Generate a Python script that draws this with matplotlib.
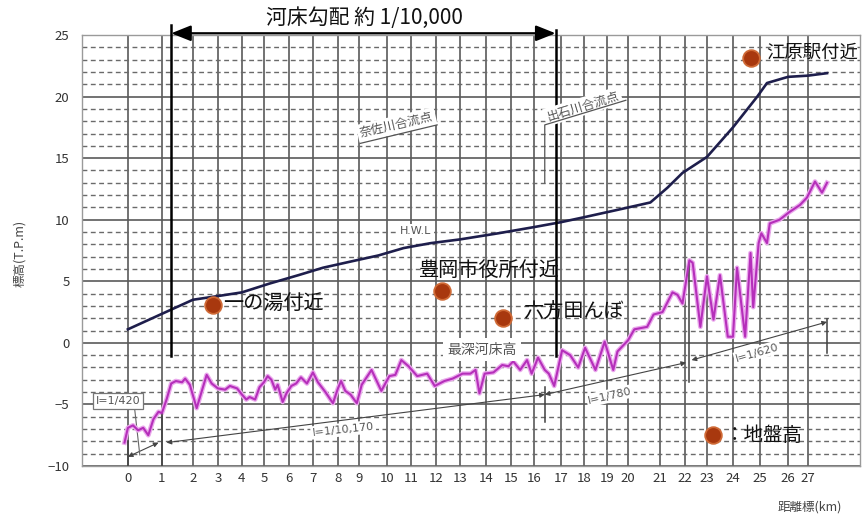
import numpy as np
import matplotlib.pyplot as plt
from matplotlib.ticker import FixedLocator, MultipleLocator

plt.rcParams['font.family'] = ['Noto Sans CJK JP', 'DejaVu Sans']

# chainage ticks (km) and where they sit along the drawing (px), the scale is not uniform
km_ticks = list(range(28))
tick_px = [128, 162, 193, 218, 242, 264, 289, 313, 338, 359, 387, 411, 436, 460,
           486, 511, 534, 561, 584, 607, 628, 660, 685, 707, 733, 760, 788, 808]

# H.W.L
hwl_km = [0, 1.3, 2.0, 3.0, 4.0, 5.2, 6.4, 7.4, 8.6, 9.7, 10.7, 11.8, 13.0, 14.5,
          16.0, 17.0, 18.0, 19.5, 20.7, 21.3, 21.9, 23.0, 24.0, 24.9, 25.25, 26.0,
          27.0, 27.95]
hwl_val = [1.1, 2.7, 3.5, 3.8, 4.1, 4.8, 5.5, 6.1, 6.6, 7.1, 7.7, 8.1, 8.4, 8.9,
           9.4, 9.8, 10.2, 10.8, 11.4, 12.6, 13.8, 15.1, 17.5, 20.0, 21.1, 21.6,
           21.7, 21.9]

# deepest riverbed elevation
bed_km = [-0.1, 0.0, 0.15, 0.3, 0.45, 0.6, 0.75, 0.9, 1.0, 1.15, 1.3, 1.45, 1.65,
          1.75, 1.9, 2.15, 2.55, 2.75, 3.0, 3.3, 3.5, 3.8, 4.0, 4.2, 4.35, 4.6,
          4.8, 5.0, 5.15, 5.3, 5.45, 5.55, 5.75, 5.9, 6.1, 6.3, 6.5, 6.75, 7.0,
          7.2, 7.5, 7.8, 8.0, 8.15, 8.35, 8.6, 8.9, 9.1, 9.45, 9.8, 10.1, 10.35,
          10.6, 10.9, 11.25, 11.65, 11.95, 12.35, 12.7, 13.1, 13.4, 13.6, 13.75,
          13.95, 14.3, 14.65, 14.9, 15.1, 15.4, 15.7, 15.9, 16.15, 16.4, 16.55,
          16.75, 17.05, 17.4, 17.75, 18.05, 18.5, 18.9, 19.3, 19.5, 20.0, 20.2,
          20.6, 20.8, 21.1, 21.5, 21.7, 21.9, 22.2, 22.35, 22.7, 23.0, 23.25,
          23.5, 23.8, 24.0, 24.15, 24.45, 24.65, 24.75, 24.95, 25.05, 25.25,
          25.35, 25.7, 26.05, 26.6, 26.95, 27.35, 27.7, 27.95]
bed_val = [-8.1, -6.9, -6.7, -7.1, -6.9, -7.5, -6.2, -5.6, -5.7, -4.6, -3.3, -3.1,
           -3.2, -2.9, -3.4, -5.3, -2.6, -3.3, -3.7, -3.8, -3.5, -3.7, -4.2, -4.6,
           -4.4, -4.6, -3.6, -3.2, -2.7, -3.0, -3.8, -3.4, -4.8, -4.1, -3.5, -3.3,
           -2.8, -3.3, -2.4, -3.2, -4.0, -4.9, -3.7, -3.1, -3.9, -4.2, -4.9, -3.4,
           -2.2, -3.9, -2.7, -2.6, -1.4, -1.9, -2.7, -2.5, -3.5, -3.1, -2.9, -2.5,
           -2.5, -2.2, -4.1, -2.5, -2.4, -1.8, -1.9, -1.5, -2.2, -1.4, -2.5, -1.2,
           -2.2, -2.5, -3.5, -0.6, -1.0, -2.0, -0.4, -2.2, 0.1, -2.2, -0.7, 0.2,
           1.1, 1.3, 2.3, 2.5, 4.1, 3.9, 3.2, 6.7, 6.5, 1.3, 5.4, 1.9, 5.5, 0.5,
           0.5, 6.1, 0.5, 7.3, 2.9, 8.1, 8.9, 8.1, 9.7, 10.0, 10.6, 11.2, 11.8,
           13.1, 12.2, 13.0]

# ground height spots
spot_km = [2.8, 12.25, 14.7, 24.67]
spot_val = [3.1, 4.2, 2.0, 23.1]
spot_names = ['一の湯付近', '豊岡市役所付近', '六方田んぼ', '江原駅付近']

# bed slope segments: (start km, start elev, end km, end elev, label)
slope_segments = [
    (0.0, -9.25, 0.9, -8.1, 'I=1/420'),
    (1.15, -8.1, 16.4, -4.2, 'I=1/10,170'),
    (16.4, -4.2, 22.05, -1.6, 'I=1/780'),
    (22.3, -1.4, 27.95, 1.7, 'I=1/620'),
]

# piecewise linear stretch of the chainage axis
anchor_km = [-20] + km_ticks + [60]
anchor_px = [tick_px[0] - 20 * 34] + tick_px + [tick_px[-1] + 33 * 20]


def km_to_px(x):
    return np.interp(x, anchor_km, anchor_px)


def px_to_km(p):
    return np.interp(p, anchor_px, anchor_km)


fig = plt.figure(figsize=(8.68, 5.20), dpi=100)
ax = fig.add_axes([82 / 868, 54 / 520, 778 / 868, 431 / 520])
ax.set_xscale('function', functions=(km_to_px, px_to_km))
ax.set_xlim(-1.35, 29.6)
ax.set_ylim(-10, 25)

# grid: solid every 5 m, dashed every 1 m, solid at each km
ax.xaxis.set_major_locator(FixedLocator(km_ticks))
ax.xaxis.set_minor_locator(FixedLocator([]))
ax.yaxis.set_major_locator(MultipleLocator(5))
ax.yaxis.set_minor_locator(MultipleLocator(1))
ax.grid(which='major', axis='both', color='#5a5a5a', lw=1.2, ls='-')
ax.grid(which='minor', axis='y', color='#6a6a6a', lw=1.0, ls=(0, (3.5, 2.5)))
ax.set_axisbelow(True)
ax.tick_params(which='both', length=0, labelsize=9.5, labelcolor='#333333')
ax.tick_params(axis='y', pad=9)
ax.tick_params(axis='x', pad=4)
for sp in ax.spines.values():
    sp.set_color('#9a9a9a')
    sp.set_linewidth(1.0)

# H.W.L and deepest bed
ax.plot(hwl_km, hwl_val, color='#1e1e4c', lw=1.9, zorder=4)
ax.plot(bed_km, bed_val, color='#eaa8ec', lw=3.4, zorder=4, solid_joinstyle='round')
ax.plot(bed_km, bed_val, color='#b52fba', lw=1.5, zorder=5, solid_joinstyle='round')

# slope arrows with labels
lbl_pos = [(-0.3, -4.7, 0), (8.25, -7.05, 6), (19.15, -4.3, 13), (24.9, -0.8, 16)]
for (x0, y0, x1, y1, txt), (tx, ty, rot) in zip(slope_segments, lbl_pos):
    ax.annotate('', xy=(x1, y1), xytext=(x0, y0),
                arrowprops=dict(arrowstyle='<|-|>', lw=0.8, color='#444444',
                                shrinkA=0, shrinkB=0, mutation_scale=7),
                zorder=3)
    if txt == 'I=1/420':
        box = dict(boxstyle='square,pad=0.25', fc='white', ec='#777777', lw=0.9)
    else:
        box = dict(boxstyle='square,pad=0.15', fc='white', ec='none')
    ax.text(tx, ty, txt, rotation=rot, fontsize=8, color='#555555', ha='center',
            va='center', family='DejaVu Sans', bbox=box, zorder=6)
ax.plot([0.2, 0.35], [-5.4, -9.1], color='#666666', lw=0.8, zorder=3)

# section boundary ticks
for bx, btop, bbot in [(0.0, -8.0, -10), (1.0, -5.7, -10), (16.4, -3.6, -6.4),
                       (22.2, 6.5, -3.2), (27.95, 1.9, -0.8)]:
    ax.plot([bx, bx], [btop, bbot], color='#404040', lw=1.1, zorder=4)

# gradient span over the middle reach
ax.plot([1.3, 1.3], [25.8, -1.1], color='black', lw=1.8, clip_on=False, zorder=6)
ax.plot([16.8, 16.8], [25.4, -1.1], color='black', lw=1.8, clip_on=False, zorder=6)
ax.annotate('', xy=(16.8, 25.14), xytext=(1.3, 25.14), annotation_clip=False,
            arrowprops=dict(arrowstyle='<|-|>,head_length=0.7,head_width=0.28',
                            lw=1.6, color='black', shrinkA=0, shrinkB=0,
                            mutation_scale=17),
            zorder=6)
fig.text(364 / 868, 1 - 18 / 520, '河床勾配 約 1/10,000', ha='center', va='center',
         fontsize=15, color='#111111')

# confluence notes and series labels
grey_box = dict(boxstyle='square,pad=0.2', fc='white', ec='none')
ax.text(10.4, 17.7, '奈佐川合流点', rotation=13, fontsize=9, color='#555555',
        ha='center', va='center', bbox=grey_box, zorder=6)
ax.plot([9.05, 12.05], [16.2, 17.7], color='#555555', lw=0.9, zorder=6)
ax.text(17.95, 19.2, '出石川合流点', rotation=17, fontsize=9, color='#555555',
        ha='center', va='center', bbox=grey_box, zorder=6)
ax.plot([16.4, 16.4, 19.9], [13.0, 17.7, 19.7], color='#555555', lw=0.9, zorder=6)
ax.text(11.2, 9.1, 'H.W.L', fontsize=8, color='#555555', ha='center', va='center',
        family='DejaVu Sans', bbox=grey_box, zorder=6)
ax.text(13.85, -0.55, '最深河床高', fontsize=10, color='#555555', ha='center',
        va='center', bbox=dict(boxstyle='square,pad=0.3', fc='white', ec='none'),
        zorder=6)

# ground height points
dot_style = dict(marker='o', ms=12, mfc='#a8380e', mec='#cf6a36', mew=1.3, ls='none')
ax.plot(spot_km, spot_val, zorder=7, **dot_style)
offsets = [(7, 1, 'left', 14.5), (34, 15, 'center', 14.5), (14, 4, 'left', 14.5),
           (11, 4, 'left', 13.2)]
for x, y, name, (dx, dy, ha, fs) in zip(spot_km, spot_val, spot_names, offsets):
    ax.annotate(name, (x, y), xytext=(dx, dy), textcoords='offset points',
                ha=ha, va='center', fontsize=fs, color='#111111',
                annotation_clip=False, zorder=7)

# legend entry for the dots
ax.plot([23.25], [-7.5], zorder=7, **dot_style)
ax.annotate('：地盤高', (23.25, -7.5), xytext=(8, 0), textcoords='offset points',
            ha='left', va='center', fontsize=14, color='#111111', zorder=7)

fig.text(20 / 868, 1 - 253 / 520, '標高(T.P.m)', rotation=90, ha='center',
         va='center', fontsize=9, color='#444444')
fig.text(810 / 868, 1 - 507 / 520, '距離標(km)', ha='center', va='center',
         fontsize=9, color='#444444')

fig.savefig('out.png', dpi=100)
